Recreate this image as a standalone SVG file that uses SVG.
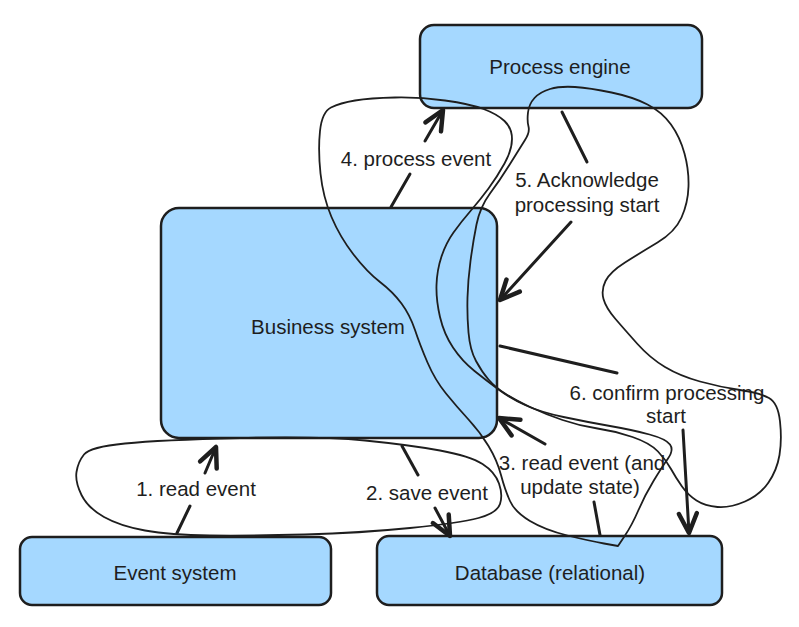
<svg xmlns="http://www.w3.org/2000/svg" width="799" height="627" viewBox="0 0 799 627">
<defs>
<style>
.node{fill:#a5d8ff;stroke:#1e1e1e;stroke-width:2.5}
.lbl{font-family:"Liberation Sans","DejaVu Sans",sans-serif;font-size:20.5px;fill:#1e1e1e;text-anchor:middle;dominant-baseline:central}
.free{fill:none;stroke:#1e1e1e;stroke-width:1.8;stroke-linejoin:round;stroke-linecap:round}
.edge{fill:none;stroke:#1e1e1e;stroke-width:3;stroke-linecap:round}
</style>
<marker id="arr" markerUnits="userSpaceOnUse" markerWidth="30" markerHeight="30" refX="0" refY="0" viewBox="-16 -10 20 20" orient="auto" overflow="visible">
<path d="M-13,-6 L0,0 L-13,6" fill="none" stroke="#1e1e1e" stroke-width="3" stroke-linecap="round" stroke-linejoin="round"/>
</marker>
</defs>
<rect width="799" height="627" fill="#ffffff"/>
<g id="node-process-engine"><rect class="node" x="420" y="25" width="282" height="83" rx="14"/><text class="lbl" x="560" y="66">Process engine</text></g>
<g id="node-business-system"><rect class="node" x="161" y="208" width="336" height="230" rx="18"/><text class="lbl" x="328" y="326">Business system</text></g>
<g id="node-event-system"><rect class="node" x="20" y="537" width="311" height="68" rx="12"/><text class="lbl" x="175" y="572">Event system</text></g>
<g id="node-database"><rect class="node" x="377" y="536" width="345" height="69" rx="12"/><text class="lbl" x="550" y="572">Database (relational)</text></g>
<g id="freehand">
<path class="free" d="M84,454.5 Q90,447 125,443.5 Q160,440 240,438 Q320,436 365,440.5 Q410,445 440,450.5 Q470,456 482.5,464 Q495,472 499,483.5 Q503,495 500,504 Q497,513 478.5,518 Q460,523 410,528 Q360,533 305,534.5 Q250,536 210,535.5 Q170,535 145,530.5 Q120,526 104,517 Q88,508 81.5,495 Q75,482 76.5,472 Q78,462 84,454.5 Z"/>
<path class="free" d="M331,107.5 Q322,112 320,131 Q318,150 320.5,173.5 Q323,197 331.5,217 Q340,237 353.5,254.5 Q367,272 380,282 Q393,292 401.5,303.5 Q410,315 415,330 Q420,345 427.5,362.5 Q435,380 446,393.5 Q457,407 468.5,419.5 Q480,432 488.5,446 Q497,460 501,475 Q505,490 510,501 Q515,512 530,521 Q545,530 567.5,535.5 Q590,541 604,543.5 L618,546 L625,535.5 Q632,525 638.5,510 Q645,495 653.5,481 Q662,467 668,458.5 Q674,450 670,444.5 Q666,439 649.5,434.5 Q633,430 610,426 Q587,422 563.5,417 Q540,412 525,405 Q510,398 498.5,389.5 Q487,381 474.5,371 Q462,361 453,347.5 Q444,334 440,317 Q436,300 436.5,285 Q437,270 441.5,256.5 Q446,243 453.5,232.5 Q461,222 470.5,211 Q480,200 488.5,188.5 Q497,177 504.5,163.5 Q512,150 512,139 Q512,128 504.5,121 Q497,114 483.5,109 Q470,104 445,100.5 Q420,97 395,97.5 Q370,98 355,100.5 Q340,103 331,107.5 Z"/>
<path class="free" d="M534.5,98 Q540,92 550,89 Q560,86 575,87 Q590,88 611.5,92.5 Q633,97 647.5,104.5 Q662,112 671,124.5 Q680,137 684.5,153.5 Q689,170 688.5,186.5 Q688,203 681.5,217.5 Q675,232 657.5,242.5 Q640,253 625,262.5 Q610,272 605.5,281 Q601,290 603.5,299 Q606,308 615.5,319 Q625,330 637.5,344 Q650,358 665,367 Q680,376 700,381.5 Q720,387 740,390 Q760,393 769,398 Q778,403 780,421.5 Q782,440 779.5,455 Q777,470 768.5,482.5 Q760,495 745,501.5 Q730,508 717.5,507 Q705,506 696.5,500.5 Q688,495 682,486.5 Q676,478 671,469 Q666,460 658,451.5 Q650,443 632.5,437 Q615,431 597.5,428.5 Q580,426 562.5,420 Q545,414 530,407 Q515,400 505,393.5 Q495,387 488.5,379.5 Q482,372 476,361 Q470,350 468.5,332.5 Q467,315 467.5,297.5 Q468,280 470.5,261 Q473,242 476.5,224.5 Q480,207 490,193.5 Q500,180 510,164 Q520,148 525,140 Q530,132 528.5,126.5 Q527,121 528,112.5 Q529,104 534.5,98 Z"/>
</g>
<g id="connectors">
<g id="edge-1"><path class="edge" d="M177,533 L190,506"/><path class="edge" d="M205,473 L216,447" marker-end="url(#arr)"/><text class="lbl" x="196" y="488">1. read event</text></g>
<g id="edge-2"><path class="edge" d="M402,446 L418,475"/><path class="edge" d="M435,508 L450,536" marker-end="url(#arr)"/><text class="lbl" x="427" y="492">2. save event</text></g>
<g id="edge-3"><path class="edge" d="M600,535 L594,502"/><path class="edge" d="M545,444 L499,418" marker-end="url(#arr)"/><text class="lbl" x="582" y="462">3. read event (and</text><text class="lbl" x="580" y="486">update state)</text></g>
<g id="edge-4"><path class="edge" d="M391,207 L410,174"/><path class="edge" d="M425,141 L443,110" marker-end="url(#arr)"/><text class="lbl" x="416" y="158">4. process event</text></g>
<g id="edge-5"><path class="edge" d="M562,112 L587,162"/><path class="edge" d="M571,222 L500,300" marker-end="url(#arr)"/><text class="lbl" x="587" y="179">5. Acknowledge</text><text class="lbl" x="587" y="204">processing start</text></g>
<g id="edge-6"><path class="edge" d="M500,346 L617,373"/><path class="edge" d="M683,430 L689,533" marker-end="url(#arr)"/><text class="lbl" x="667" y="392">6. confirm processing</text><text class="lbl" x="666" y="415">start</text></g>
</g>
</svg>
